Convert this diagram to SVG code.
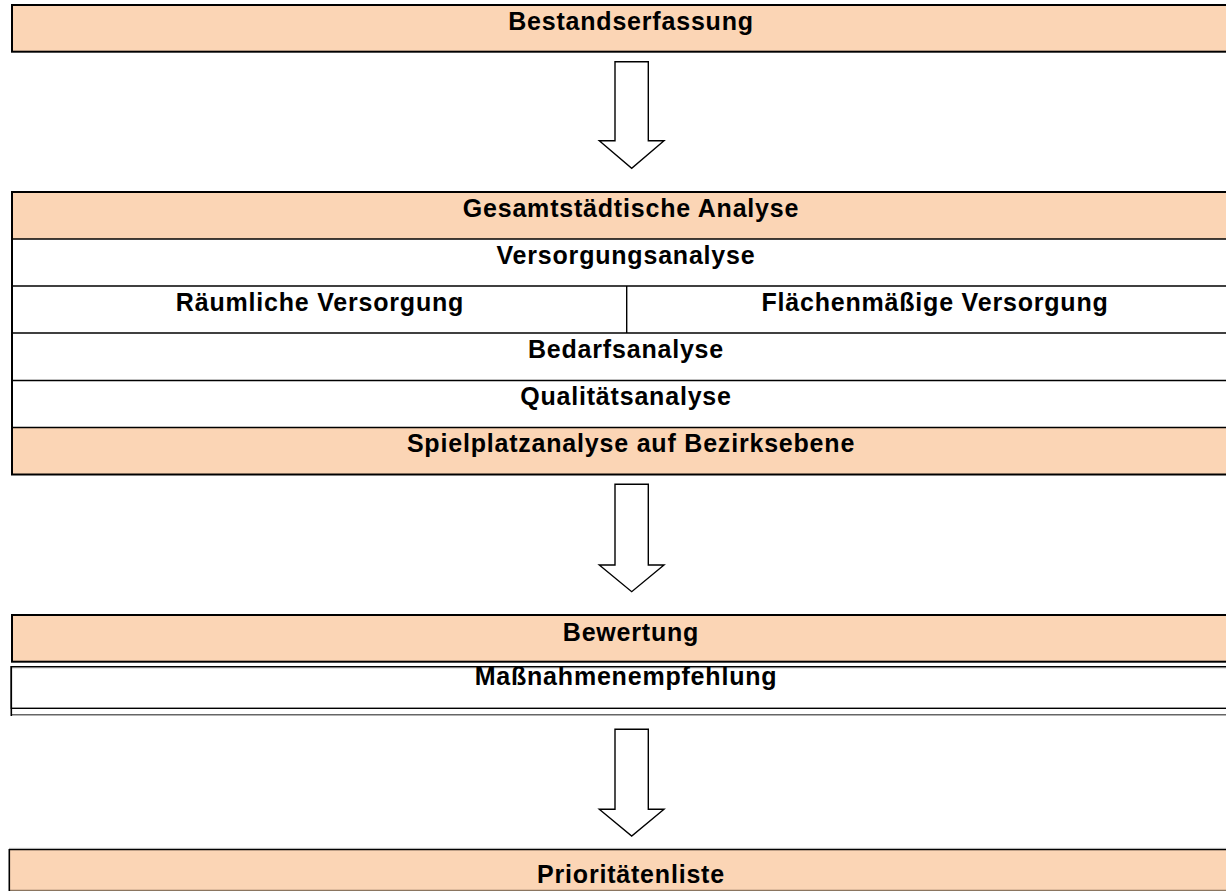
<svg xmlns="http://www.w3.org/2000/svg" width="1226" height="891" viewBox="0 0 1226 891">
<style>
.box{fill:#FBD5B5;stroke:#000;stroke-width:2}
.ln{stroke:#000;stroke-width:1.4;fill:none}
.t{font-family:"Liberation Sans",Arial,sans-serif;font-weight:bold;font-size:25px;letter-spacing:0.8px;text-anchor:middle;fill:#000}
.arrow{fill:#fff;stroke:#000;stroke-width:1.4;stroke-linejoin:miter}
</style>
<rect width="1226" height="891" fill="#fff"/>
<g id="bestandserfassung">
<rect class="box" x="12" y="5" width="1240" height="46.7"/>
<text class="t" x="631" y="30">Bestandserfassung</text>
</g>
<g id="gesamtstaedtische-analyse">
<rect x="12" y="192" width="1240" height="47" fill="#FBD5B5"/>
<rect x="12" y="427.5" width="1240" height="47" fill="#FBD5B5"/>
<rect x="12" y="192" width="1240" height="282.5" fill="none" stroke="#000" stroke-width="2"/>
<line class="ln" x1="12" y1="239" x2="1226" y2="239"/>
<line class="ln" x1="12" y1="286" x2="1226" y2="286"/>
<line class="ln" x1="12" y1="333" x2="1226" y2="333"/>
<line class="ln" x1="12" y1="380.5" x2="1226" y2="380.5"/>
<line class="ln" x1="12" y1="427.5" x2="1226" y2="427.5"/>
<line class="ln" x1="626.7" y1="286" x2="626.7" y2="333"/>
<text class="t" x="631" y="217">Gesamtstädtische Analyse</text>
<text class="t" x="626" y="264">Versorgungsanalyse</text>
<text class="t" x="320" y="311">Räumliche Versorgung</text>
<text class="t" x="935" y="311">Flächenmäßige Versorgung</text>
<text class="t" x="626" y="358">Bedarfsanalyse</text>
<text class="t" x="626" y="405">Qualitätsanalyse</text>
<text class="t" x="631" y="452">Spielplatzanalyse auf Bezirksebene</text>
</g>
<g id="bewertung">
<rect class="box" x="12" y="615" width="1240" height="46.7"/>
<text class="t" x="631" y="641">Bewertung</text>
</g>
<g id="massnahmenempfehlung">
<rect x="11.3" y="666.7" width="1240" height="41.6" fill="#fff" stroke="#000" stroke-width="1.4"/>
<line x1="11" y1="667.7" x2="1226" y2="667.7" stroke="#777" stroke-width="1"/>
<line x1="11.3" y1="714.8" x2="1226" y2="714.8" stroke="#666" stroke-width="1.4"/>
<line x1="11.3" y1="666" x2="11.3" y2="716" stroke="#000" stroke-width="1.6"/>
<text class="t" x="626" y="685">Maßnahmenempfehlung</text>
</g>
<g id="prioritaetenliste">
<rect x="9" y="849.3" width="1240" height="41" fill="#FBD5B5"/>
<line x1="9" y1="848.4" x2="1226" y2="848.4" stroke="#aaa" stroke-width="1"/>
<line x1="9" y1="849.6" x2="1226" y2="849.6" stroke="#000" stroke-width="1.4"/>
<line x1="9" y1="890.4" x2="1226" y2="890.4" stroke="#8a7560" stroke-width="1.2"/>
<line x1="9.3" y1="849" x2="9.3" y2="891" stroke="#000" stroke-width="1.6"/>
<text class="t" x="631" y="883">Prioritätenliste</text>
</g>
<g id="connectors">
<polygon class="arrow" points="615,61.7 648.3,61.7 648.3,140.7 664,140.7 631.7,168.3 599.3,140.7 615,140.7"/>
<polygon class="arrow" points="615,484.3 648.3,484.3 648.3,565 664,565 631.7,591.7 599.3,565 615,565"/>
<polygon class="arrow" points="615,729.3 648.3,729.3 648.3,809.3 664,809.3 631.7,836 599.3,809.3 615,809.3"/>
</g>
</svg>
